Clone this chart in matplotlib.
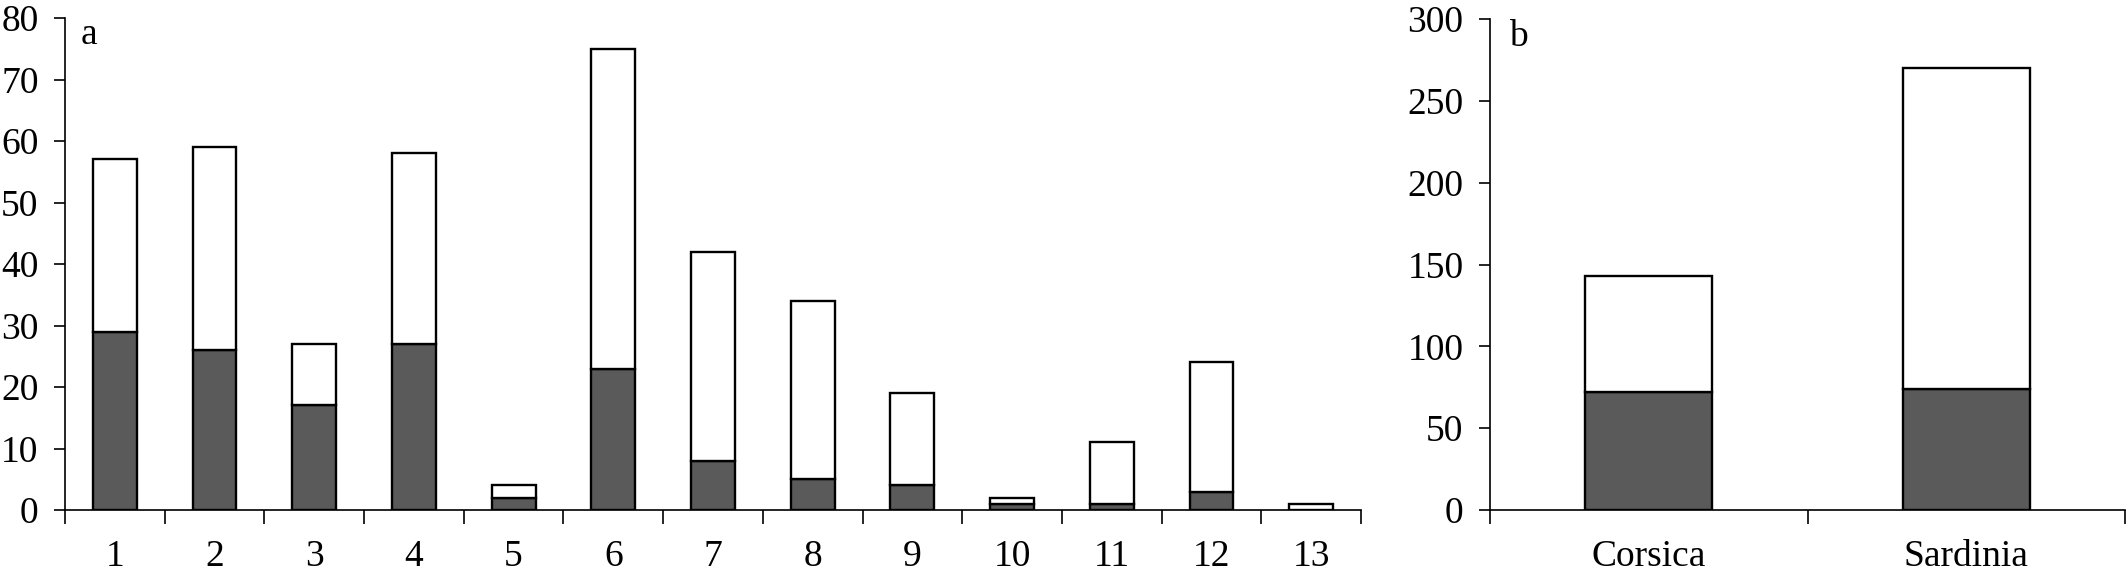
import matplotlib
matplotlib.use("Agg")
import matplotlib.pyplot as plt
import numpy as np

plt.rcParams['font.family'] = ['Liberation Serif', 'DejaVu Serif']

# Panel a
sites = [str(i) for i in range(1, 14)]
totals_a = [57, 59, 27, 58, 4, 75, 42, 34, 19, 2, 11, 24, 1]
dark_a = [29, 26, 17, 27, 2, 23, 8, 5, 4, 1, 1, 3, 0]

# Panel b
islands = ["Corsica", "Sardinia"]
totals_b = [143, 270]
dark_b = [72, 74]

DARK = "#5a5a5a"
FS = 27

fig = plt.figure(figsize=(21.28, 5.81), dpi=100)
ax1 = fig.add_axes([65/2128, 71/581, (1361-65)/2128, (510-18)/581])
ax2 = fig.add_axes([1490/2128, 71/581, (2125-1490)/2128, (510-19)/581])


def draw(ax, labels, totals, dark, width, ymax, step, letter, lx):
    x = np.arange(len(labels))
    light = [t - d for t, d in zip(totals, dark)]
    ax.bar(x, dark, width=width, color=DARK, edgecolor="black", linewidth=1.7, zorder=3)
    ax.bar(x, light, bottom=dark, width=width, color="white", edgecolor="black", linewidth=1.7, zorder=3)
    ax.set_xlim(-0.5, len(labels) - 0.5)
    ax.set_ylim(0, ymax)
    ax.set_yticks(np.arange(0, ymax + 1, step))
    ax.set_xticks(x)
    ax.set_xticklabels(labels)
    ax.set_xticks(np.arange(-0.5, len(labels)), minor=True)
    ax.tick_params(axis="x", which="major", length=0, pad=21, labelsize=FS)
    ax.tick_params(axis="x", which="minor", length=10, width=1.2, direction="out")
    ax.tick_params(axis="y", length=8, width=1.2, direction="out", pad=11, labelsize=FS)
    for s in ("top", "right"):
        ax.spines[s].set_visible(False)
    for s in ("left", "bottom"):
        ax.spines[s].set_linewidth(1.2)
    ax.text(lx, 1.0, letter, transform=ax.transAxes,
            fontsize=FS, va="top", ha="left")


draw(ax1, sites, totals_a, dark_a, 0.44, 80, 10, "a", 0.012)
draw(ax2, islands, totals_b, dark_b, 0.4, 300, 50, "b", 0.03)

fig.savefig("out.png", dpi=100)
